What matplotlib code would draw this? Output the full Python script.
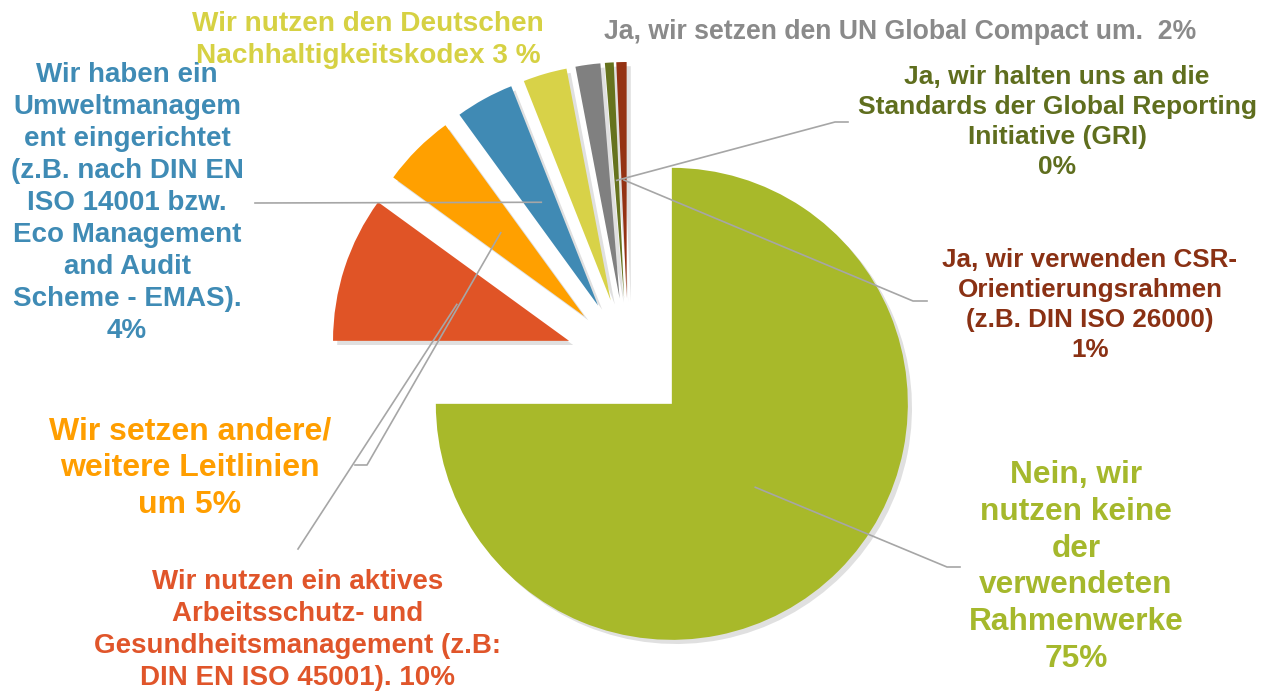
import numpy as np
import matplotlib
matplotlib.use('Agg')
import matplotlib.pyplot as plt
import matplotlib.patheffects as pe

# slices, clockwise from 12 o'clock
values = [75, 10, 5, 4, 3, 1.7, 0.6, 0.7]
labels = [
    'Nein, wir\nnutzen keine\nder\nverwendeten\nRahmenwerke\n75%',
    'Wir nutzen ein aktives\nArbeitsschutz- und\nGesundheitsmanagement (z.B:\nDIN EN ISO 45001). 10%',
    'Wir setzen andere/\nweitere Leitlinien\num 5%',
    'Wir haben ein\nUmweltmanagem\nent eingerichtet\n(z.B. nach DIN EN\nISO 14001 bzw.\nEco Management\nand Audit\nScheme - EMAS).\n4%',
    'Wir nutzen den Deutschen\nNachhaltigkeitskodex 3 %',
    'Ja, wir setzen den UN Global Compact um.  2%',
    'Ja, wir halten uns an die\nStandards der Global Reporting\nInitiative (GRI)\n0%',
    'Ja, wir verwenden CSR-\nOrientierungsrahmen\n(z.B. DIN ISO 26000)\n1%',
]
slice_colors = ['#A8B92A', '#E05426', '#FFA000', '#408AB4',
                '#D8D248', '#808080', '#66731E', '#943213']
text_colors = ['#A5B82C', '#E0552A', '#FF9E00', '#3F8BB5',
               '#D6D143', '#8A8A8A', '#5F6E1E', '#8A3114']

W, H = 1272, 693

# label layout in pixel coordinates (x, y from top)
label_xy = [(1076, 567), (298, 630), (190, 468), (127, 203),
            (368, 40), (900, 32), (1057, 122), (1090, 305)]
font_sizes = [22.8, 20, 23, 20, 20.2, 19.2, 19, 18.7]
# leader end point and optional short horizontal stub
leader_end = [(947, 567), (298, 549), (367, 465), (255, 203),
              None, None, (835, 122), (913, 301)]
leader_stub = [(960, 567), None, (355, 465), None,
               None, None, (848, 122), (927, 301)]

fig = plt.figure(figsize=(W / 100, H / 100), dpi=100)
ax = fig.add_axes([0, 0, 1, 1])

radius = 236
center = (628, H - 360)
# explode is in data units here (pixels)
wedges, _ = ax.pie(values, colors=slice_colors, startangle=90, counterclock=False,
                   radius=radius, center=center, explode=[62] * len(values),
                   wedgeprops=dict(linewidth=0))

for w in wedges:
    w.set_path_effects([pe.SimplePatchShadow(offset=(3, -3), shadow_rgbFace='k', alpha=0.12),
                        pe.Normal()])

# leader lines from half radius along each slice bisector
for w, end, stub in zip(wedges, leader_end, leader_stub):
    if end is None:
        continue
    mid = np.deg2rad((w.theta1 + w.theta2) / 2)
    sx = w.center[0] + 0.5 * w.r * np.cos(mid)
    sy = w.center[1] + 0.5 * w.r * np.sin(mid)
    xs = [sx, end[0]]
    ys = [sy, H - end[1]]
    if stub is not None:
        xs.append(stub[0])
        ys.append(H - stub[1])
    ax.plot(xs, ys, color='#A6A6A6', lw=1.2, zorder=3)

for text, (x, y), color, fs in zip(labels, label_xy, text_colors, font_sizes):
    ax.text(x, H - y, text, color=color, fontsize=fs, fontweight='bold',
            family='Liberation Sans', ha='center', va='center',
            multialignment='center', linespacing=1.3, zorder=4)

ax.set_xlim(0, W)
ax.set_ylim(0, H)
ax.set_aspect('equal')
ax.axis('off')

fig.savefig('out.png', dpi=100)
